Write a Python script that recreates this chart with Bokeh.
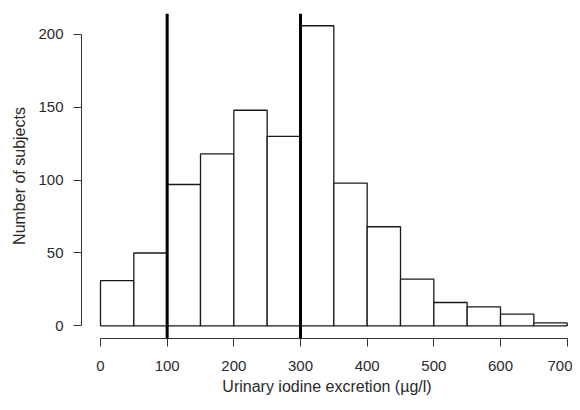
from bokeh.plotting import figure
from bokeh.models import ColumnDataSource, Span, FixedTicker, Range1d
from bokeh.embed import file_html
from bokeh.resources import INLINE

# Data
bin_left = [0, 50, 100, 150, 200, 250, 300, 350, 400, 450, 500, 550, 600, 650]
bin_right = [50, 100, 150, 200, 250, 300, 350, 400, 450, 500, 550, 600, 650, 700]
counts = [31, 50, 97, 118, 148, 130, 206, 98, 68, 32, 16, 13, 8, 2]
cutoffs = [100, 300]
x_ticks = [0, 100, 200, 300, 400, 500, 600, 700]
y_ticks = [0, 50, 100, 150, 200]

FONT = "Liberation Sans"

p = figure(width=572, height=402, output_backend="svg", toolbar_location=None,
           x_range=Range1d(-28.5, 708), y_range=Range1d(-8.7, 214.4),
           min_border_left=81, min_border_right=0, min_border_top=13,
           min_border_bottom=64)
p.outline_line_color = None
p.xgrid.visible = False
p.ygrid.visible = False
p.background_fill_color = "white"
p.border_fill_color = "white"

src = ColumnDataSource(dict(left=bin_left, right=bin_right, top=counts,
                            bottom=[0] * len(counts)))
p.quad(left="left", right="right", top="top", bottom="bottom", source=src,
       fill_color="white", line_color="#1a1a1a", line_width=1.3)

for c in cutoffs:
    p.add_layout(Span(location=c, dimension="height", line_color="black",
                      line_width=3))

for ax, ticks in ((p.xaxis[0], x_ticks), (p.yaxis[0], y_ticks)):
    ax.ticker = FixedTicker(ticks=ticks)
    ax.minor_tick_line_color = None
    ax.major_tick_in = 0
    ax.major_tick_out = 8
    ax.major_tick_line_color = "#333333"
    ax.axis_line_color = "#333333"
    ax.major_label_text_font = FONT
    ax.major_label_text_font_size = "15px"
    ax.major_label_text_color = "#2a2a2a"
    ax.axis_label_text_font = FONT
    ax.axis_label_text_font_size = "16px"
    ax.axis_label_text_font_style = "normal"
    ax.axis_label_text_color = "#2a2a2a"

p.xaxis[0].bounds = (0, 700)
p.yaxis[0].bounds = (0, 200)
p.xaxis[0].major_label_standoff = 14
p.yaxis[0].major_label_standoff = 10
p.xaxis[0].axis_label = "Urinary iodine excretion (µg/l)"
p.yaxis[0].axis_label = "Number of subjects"
p.xaxis[0].axis_label_standoff = 4
p.yaxis[0].axis_label_standoff = 7

open("out.html", "w").write(file_html(p, INLINE))
